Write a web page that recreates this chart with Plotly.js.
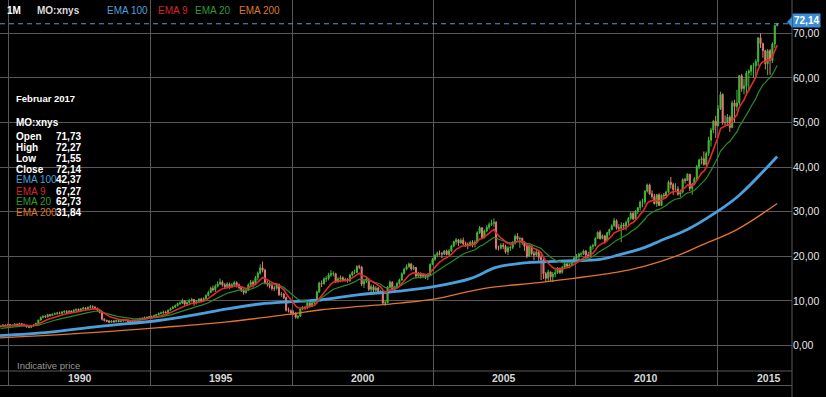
<!DOCTYPE html>
<html><head><meta charset="utf-8">
<script src="https://cdn.plot.ly/plotly-3.0.1.min.js"></script>
<style>html,body{margin:0;padding:0;background:#000;overflow:hidden}#chart{width:826px;height:397px}</style>
</head><body><div id="chart"></div>
<script>
// ---- data (monthly, Sep 1989 .. Feb 2017) ----
const startYear = 1989, startMonth = 9;
const firstOpen = 4.2;
const closes = [
4.3,4.6,4.4,4.7,
4.4,4.5,4.8,4.6,4.9,4.7,4.5,4.2,4.1,4.4,4.6,5.0,
5.7,6.3,6.5,6.4,6.9,6.7,7.0,7.1,7.3,7.2,7.5,7.6,
7.4,7.7,7.5,7.9,8.1,7.8,8.2,8.4,8.2,8.5,8.7,8.6,
8.3,7.9,7.4,5.9,5.6,5.5,5.2,5.5,5.3,5.6,5.4,5.5,
5.8,5.6,5.4,5.3,5.6,5.5,5.7,6.1,6.0,6.3,6.2,6.5,
6.3,6.7,6.9,7.2,7.3,7.5,7.4,7.9,8.3,8.6,8.9,9.4,
9.5,10.0,9.3,9.6,10.1,10.3,9.5,9.9,10.4,10.0,10.5,11.2,
11.9,12.8,12.5,13.3,13.8,14.2,13.6,13.2,13.8,13.1,13.6,14.1,
13.6,13.0,12.4,11.9,12.4,13.6,14.2,13.8,15.2,16.2,17.4,16.9,
14.0,13.8,13.4,12.8,12.8,13.7,11.4,11.5,10.7,7.9,7.8,7.3,
7.3,6.3,6.6,8.2,8.5,8.4,9.5,8.9,9.5,9.6,12.0,14.0,
13.9,14.9,15.0,15.8,16.1,16.1,14.3,14.9,15.2,14.7,14.8,14.5,
15.8,16.4,16.4,17.7,17.6,13.8,14.4,14.9,12.6,13.2,12.4,12.9,
11.9,12.1,9.5,9.6,13.1,14.2,12.6,13.0,13.9,14.7,16.1,17.1,
17.7,18.3,17.2,17.5,15.6,16.1,15.5,15.9,15.4,15.8,18.2,19.3,
20.2,20.7,20.6,20.5,21.2,20.4,21.2,22.3,23.3,23.7,23.0,23.6,
22.8,22.7,22.4,23.1,22.8,23.2,25.3,26.4,24.2,25.7,26.5,27.1,
27.4,27.6,21.8,21.8,22.5,22.2,21.0,21.9,22.0,23.1,24.5,23.9,
24.0,23.1,22.2,20.0,22.3,20.6,20.3,21.0,19.8,19.2,16.1,15.1,
16.5,15.4,16.0,16.3,17.3,16.4,17.5,18.3,17.8,18.1,18.8,19.6,
19.9,20.5,20.5,21.2,20.3,20.0,22.2,22.4,24.0,25.4,24.0,24.6,
23.5,25.3,26.0,26.8,28.0,26.4,26.3,27.0,26.8,27.6,28.5,29.6,
28.4,30.1,30.9,32.2,32.2,34.6,36.0,34.0,33.4,31.8,33.8,31.4,
33.7,33.6,34.4,36.6,36.1,35.0,35.1,33.9,34.4,37.2,37.0,38.4,
35.2,36.2,37.4,40.1,41.6,41.9,40.6,43.1,46.0,48.3,50.3,49.3,
53.1,56.3,50.0,50.0,51.2,48.9,54.4,53.6,54.4,60.5,57.6,58.2,
61.1,61.5,62.7,62.7,63.7,69.0,67.7,66.1,63.2,66.1,63.9,67.6,
71.73,72.14];
const highs = [
4.5,4.8,4.7,4.9,
4.8,4.7,5.0,4.9,5.1,5.0,4.9,4.6,4.4,4.5,4.8,5.1,
5.8,6.5,6.8,6.8,7.1,7.1,7.2,7.4,7.5,7.6,7.7,7.9,
7.9,7.9,7.9,8.1,8.3,8.3,8.4,8.7,8.6,8.8,9.1,9.0,
8.8,8.5,8.0,7.5,6.1,5.8,5.7,5.7,5.7,5.8,5.8,5.7,
6.0,5.9,5.7,5.6,5.8,5.8,5.9,6.2,6.3,6.5,6.5,6.6,
6.7,6.9,7.1,7.4,7.6,7.8,7.8,8.1,8.5,8.9,9.2,9.6,
9.9,10.5,10.2,9.9,10.4,10.7,10.4,10.2,10.6,10.7,10.8,11.5,
12.3,13.2,13.4,13.7,14.4,15.0,14.6,14.0,14.2,14.1,14.0,14.5,
14.4,13.9,13.3,12.8,12.8,13.9,14.7,14.6,15.6,16.6,18.2,18.8,
17.2,14.6,14.2,13.8,13.4,14.0,13.9,12.0,11.8,11.0,8.5,8.1,
7.9,7.4,6.8,8.4,8.9,8.9,9.8,9.7,9.8,10.2,12.3,14.3,
14.6,15.3,15.6,16.3,16.9,16.6,16.3,15.3,15.7,15.5,15.2,15.1,
16.1,16.7,17.0,18.0,18.1,17.8,14.9,15.4,15.1,13.7,13.6,13.3,
13.1,12.5,12.3,10.0,13.3,14.6,14.4,13.4,14.2,15.0,16.4,17.4,
18.2,18.6,18.4,18.0,17.6,16.5,16.4,16.2,16.1,16.2,18.4,19.6,
20.5,21.1,21.3,21.0,21.4,21.5,21.6,22.6,23.5,24.1,23.9,24.0,
24.2,23.3,23.1,23.5,23.6,23.6,25.6,26.8,26.5,26.0,27.0,27.6,
28.2,28.5,27.9,22.4,22.9,23.0,22.6,22.2,22.4,23.4,24.9,25.2,
24.4,24.2,23.4,22.8,22.6,22.4,21.2,21.6,21.5,20.5,19.5,16.5,
17.0,16.6,16.5,17.1,17.6,17.5,17.9,18.6,18.5,18.4,19.1,20.0,
20.5,20.8,20.9,21.5,21.4,21.0,22.4,22.8,24.3,25.6,25.9,24.9,
24.8,25.5,26.2,27.2,28.6,28.3,27.2,27.6,27.5,28.0,28.8,30.0,
30.0,30.3,31.0,32.5,32.9,34.8,36.3,36.3,34.8,34.0,34.0,34.1,
33.9,34.2,34.7,37.0,37.8,36.5,36.4,35.7,35.0,37.5,37.6,38.6,
38.5,36.5,37.8,40.5,41.9,42.4,43.5,43.5,46.8,48.8,50.6,51.5,
53.9,56.9,56.5,51.6,51.9,51.6,54.9,55.1,57.3,60.7,60.9,59.8,
61.6,61.9,62.9,63.4,64.2,69.1,70.0,67.9,66.3,66.5,66.5,68.0,
71.9,72.27];
const lows = [
4.1,4.2,4.3,4.3,
4.2,4.3,4.4,4.4,4.5,4.5,4.3,4.0,3.9,3.9,4.3,4.5,
4.8,5.6,6.1,6.2,6.3,6.5,6.6,6.8,6.9,7.0,7.0,7.3,
7.2,7.3,7.3,7.4,7.8,7.6,7.7,8.0,8.0,8.0,8.3,8.3,
8.1,7.7,7.2,5.6,5.4,5.2,5.0,5.1,5.1,5.2,5.2,5.2,
5.4,5.4,5.2,5.1,5.2,5.3,5.4,5.6,5.8,5.9,6.0,6.0,
6.1,6.2,6.5,6.8,7.0,7.1,7.2,7.3,7.8,8.1,8.4,8.8,
9.1,9.3,9.0,9.0,9.4,9.8,8.9,9.2,9.7,9.7,9.8,10.3,
11.0,11.7,12.1,12.0,13.0,13.5,13.2,12.8,13.0,12.7,12.9,13.3,
13.0,12.6,12.0,11.4,11.6,12.2,13.3,13.0,13.5,14.6,15.9,16.4,
13.7,13.2,12.8,12.3,12.2,12.5,11.1,10.9,10.4,7.6,7.4,6.9,
6.8,6.0,5.9,6.4,7.9,8.0,8.2,8.5,8.6,9.1,9.4,11.8,
13.1,13.6,14.2,14.6,15.4,15.5,14.0,14.1,14.2,14.3,14.3,14.1,
14.3,15.5,16.0,16.2,17.1,13.3,12.9,14.0,12.2,12.0,12.0,12.1,
11.6,11.5,9.1,8.9,9.5,12.9,12.3,12.4,12.9,13.6,14.5,15.9,
16.9,17.4,16.8,16.9,15.1,15.3,15.0,15.1,14.9,14.7,15.6,18.0,
19.0,19.8,20.2,19.6,20.3,20.2,20.3,21.0,22.0,22.6,22.3,22.8,
22.5,22.1,21.6,22.2,22.0,22.0,23.0,25.0,24.0,24.0,25.4,26.0,
26.8,26.6,21.4,21.3,21.5,21.6,20.6,20.3,21.2,21.6,22.6,23.5,
21.9,22.6,21.2,19.6,19.9,20.2,19.1,19.9,18.6,14.7,14.9,14.4,
14.5,14.4,14.2,15.3,16.1,16.0,16.1,17.2,17.3,17.3,17.8,18.6,
19.3,19.4,20.0,20.3,19.0,19.6,19.9,21.5,22.2,23.9,23.7,23.8,
23.2,23.4,24.7,25.8,26.7,26.0,25.9,23.2,25.9,25.8,26.8,28.2,
28.1,28.3,29.4,30.3,31.0,31.6,34.3,33.8,32.9,31.6,31.1,31.3,
31.4,33.0,33.4,34.2,35.2,33.8,34.6,33.6,33.3,34.1,36.3,36.9,
34.6,33.8,35.9,37.0,39.5,40.6,40.3,40.2,42.5,44.6,47.6,46.5,
49.1,52.8,49.5,49.3,49.2,47.9,48.7,50.0,52.6,53.9,56.9,56.3,
56.1,57.0,60.5,60.0,60.4,62.6,66.7,64.5,61.9,60.6,60.7,63.3,
66.7,71.55];

// EMA 9 / EMA 20 starting levels read at the left edge
const ema9Start = 4.3, ema20Start = 3.8;

// EMA 100 and EMA 200
const ema100Dates = ['1989-09-07','1991-06-15','1993-03-15','1995-04-15','1996-07-01','1997-09-15','1998-11-15','1999-12-01','2001-01-01','2002-05-15','2003-10-15','2005-01-01','2006-04-15','2007-03-15','2008-01-15','2009-06-15','2010-11-15','2011-07-15','2012-06-15','2013-01-01','2013-12-15','2015-01-01','2015-10-15','2017-02-15'];
const ema100Vals  = [2.2,3.0,4.3,5.6,6.8,8.2,9.3,9.8,10.2,11.4,12.2,13.2,15.0,17.5,18.4,18.9,19.3,20.3,22.0,23.5,26.0,30.0,33.7,42.37];
const ema200Dates = ['1989-09-07','1993-03-15','1995-04-15','1997-09-15','2000-01-01','2001-01-15','2003-10-15','2005-01-01','2006-10-15','2008-09-15','2010-01-01','2011-07-15','2012-06-15','2013-06-15','2014-06-15','2015-09-15','2017-02-15'];
const ema200Vals  = [1.7,3.0,4.0,5.3,7.1,8.0,9.5,10.4,12.8,14.1,15.1,16.5,17.8,19.8,22.5,26.0,31.84];

const yTickVals = [0,10,20,30,40,50,60,70];
const yTickText = ['0,00','10,00','20,00','30,00','40,00','50,00','60,00','70,00'];
const xGridYears = ['1990-01-01','1995-01-01','2000-01-01','2005-01-01','2010-01-01','2015-01-01'];
const xLabels = ['1990','1995','2000','2005','2010','2015'];
const xLabelPos = ['1992-07-01','1997-07-01','2002-07-01','2007-07-01','2012-07-01','2016-11-01'];
const lastPrice = 72.14, lastPriceText = '72,14';
const infoLabels = ['Open','High','Low','Close','EMA 100','EMA 9','EMA 20','EMA 200'];
const infoValues = ['71,73','72,27','71,55','72,14','42,37','67,27','62,73','31,84'];

// ---- build ----
const dates = closes.map((_, i) => {
  const m0 = startMonth - 1 + i;
  const y = startYear + Math.floor(m0 / 12), m = (m0 % 12) + 1;
  return y + '-' + String(m).padStart(2, '0') + '-15';
});
const opens = closes.map((c, i) => i === 0 ? firstOpen : closes[i - 1]);
function ema(src, n, start) {
  const a = 2 / (n + 1); let p = start;
  return src.map(v => (p = p + a * (v - p)));
}
const ema9 = ema(closes, 9, ema9Start);
const ema20 = ema(closes, 20, ema20Start);

const C = {blue:'#4b9fdc', red:'#e32a2a', green:'#2a8c2a', orange:'#e0742c',
  candUp:'#46b83a', candDn:'#e07c78', grid:'#585858'};
const FONT = 'Arial, "Liberation Sans", sans-serif';

const traces = [
  {type:'scatter', mode:'lines', x:ema200Dates, y:ema200Vals, line:{color:C.orange, width:1.4, shape:'spline'}, hoverinfo:'skip'},
  {type:'scatter', mode:'lines', x:ema100Dates, y:ema100Vals, line:{color:C.blue, width:2.8, shape:'spline'}, hoverinfo:'skip'},
  {type:'candlestick', x:dates, open:opens, high:highs, low:lows, close:closes,
    increasing:{line:{color:C.candUp, width:1}, fillcolor:C.candUp},
    decreasing:{line:{color:C.candDn, width:1}, fillcolor:C.candDn},
    whiskerwidth:0, hoverinfo:'skip'},
  {type:'scatter', mode:'lines', x:dates, y:ema20, line:{color:C.green, width:1.2}, hoverinfo:'skip'},
  {type:'scatter', mode:'lines', x:dates, y:ema9, line:{color:C.red, width:1.6}, hoverinfo:'skip'}
];

// pixel helpers for annotation placement (plot area 0..792 x 0..385)
const PW = 792, PH = 385;
const px = x => x / PW, py = y => 1 - y / PH;
function T(text, x, y, color, size, bold, anchor) {
  return {text: bold ? '<b>' + text + '</b>' : text, xref:'paper', yref:'paper', x:px(x), y:py(y),
    xanchor: anchor || 'left', yanchor:'middle', showarrow:false,
    font:{family:FONT, size:size, color:color}};
}
const ann = [
  T('1M', 5, 10, '#ffffff', 10, true),
  T('MO:xnys', 35, 10, '#dddddd', 10, true),
  T('EMA 100', 105, 10, C.blue, 10, false),
  T('EMA 9', 156, 10, '#d42626', 10, false),
  T('EMA 20', 193, 10, '#2f9a2f', 10, false),
  T('EMA 200', 237, 10, '#dc782c', 10, false),
  T('Februar 2017', 14, 99, '#ffffff', 9.5, true),
  T('MO:xnys', 14, 122, '#ffffff', 10, true),
  T('Indicative price', 15, 365, '#9a9a9a', 9.5, false)
];
const infoColors = ['#ffffff','#ffffff','#ffffff','#ffffff', C.blue, '#d42626', '#2f9a2f', '#dc782c'];
infoLabels.forEach((l, i) => {
  const y = 136 + i * 11;
  ann.push(T(l, 14, y, infoColors[i], 10, i < 4));
  ann.push(T(infoValues[i], 54, y, '#ffffff', 10, true));
});
xLabels.forEach((l, i) => ann.push({text:'<b>' + l + '</b>', xref:'x', yref:'paper', x:xLabelPos[i], y:py(378),
  xanchor:'center', yanchor:'middle', showarrow:false, font:{family:FONT, size:10.5, color:'#d8d8d8'}}));
ann.push({text:'<b>' + lastPriceText + '</b>', xref:'paper', yref:'y', x:1, y:lastPrice, xanchor:'left', yanchor:'middle',
  yshift:3, showarrow:false, bgcolor:'#3b8ed6', borderpad:1, font:{family:FONT, size:10, color:'#ffffff'}});

const shapes = [
  {type:'line', xref:'paper', yref:'paper', x0:0, x1:1, y0:py(371), y1:py(371), line:{color:C.grid, width:1}},
  {type:'line', xref:'paper', yref:'y', x0:0, x1:px(788), y0:lastPrice, y1:lastPrice, line:{color:C.blue, width:1, dash:'5px,4px'}},
  {type:'line', xref:'paper', yref:'paper', x0:1, x1:1, y0:-0.04, y1:1, line:{color:C.grid, width:1}},
  {type:'path', xref:'paper', yref:'y', path:'M ' + px(787) + ' ' + (lastPrice + 0.4) + ' L ' + px(792) + ' ' + (lastPrice + 1.6) + ' L ' + px(792) + ' ' + (lastPrice - 0.8) + ' Z', fillcolor:'#3b8ed6', line:{width:0}}
];

const layout = {
  width:826, height:397, paper_bgcolor:'#000', plot_bgcolor:'#000',
  margin:{l:0, r:34, t:0, b:12}, showlegend:false, dragmode:false,
  font:{family:FONT, color:'#dddddd'},
  xaxis:{type:'date', range:['1989-09-07','2017-08-25'], tickmode:'array', tickvals:xGridYears,
    showticklabels:false, ticks:'', showgrid:true, gridcolor:C.grid, gridwidth:1, zeroline:false,
    showline:true, linecolor:C.grid, linewidth:1, rangeslider:{visible:false}, fixedrange:true},
  yaxis:{side:'right', range:[-8.86, 77.47], tickmode:'array', tickvals:yTickVals, ticktext:yTickText,
    showgrid:true, gridcolor:C.grid, gridwidth:1, zeroline:false, ticks:'', showline:false,
    tickfont:{family:FONT, size:10.5, color:'#e6e6e6'}, fixedrange:true},
  annotations:ann, shapes:shapes
};
Plotly.newPlot('chart', traces, layout, {displayModeBar:false, staticPlot:true});
</script>
</body></html>
